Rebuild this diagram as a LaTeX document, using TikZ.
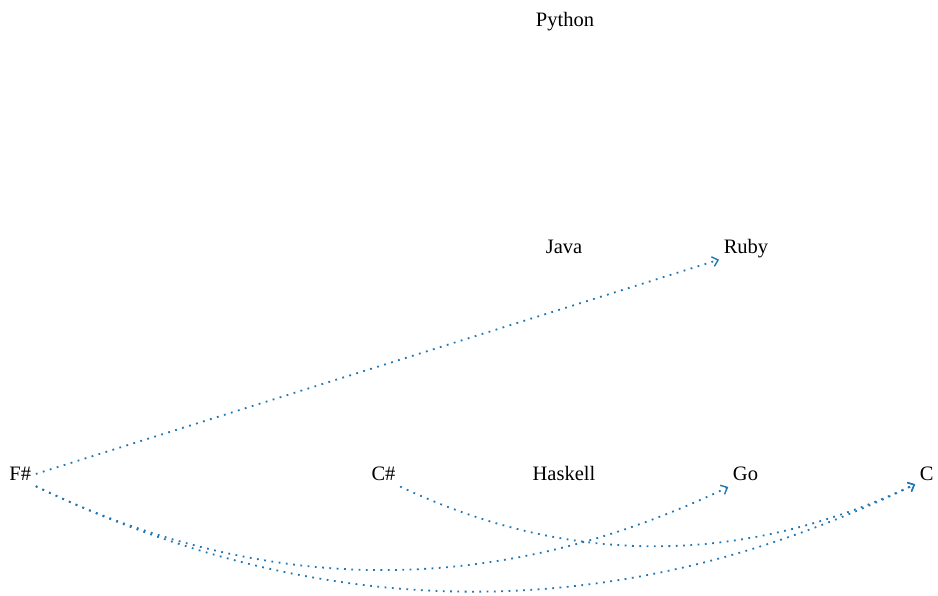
\documentclass[tikz,border=0pt]{standalone}
\usepackage{fontspec}
\setmainfont{Liberation Serif}
\usetikzlibrary{arrows.meta}
\definecolor{edgeblue}{RGB}{31,119,180}
\tikzset{
  lang/.style={anchor=base, inner sep=4.5pt, text height=0.7em, text depth=0.25em,
    font=\fontsize{20.5}{24}\selectfont, text=black},
  link/.style={draw=edgeblue, line width=1.8pt, dash pattern=on 1.8pt off 5.5pt,
    -{Straight Barb[length=5.5pt,width=10pt,line width=1.4pt]}},
}
\begin{document}
\begin{tikzpicture}[x=1pt,y=1pt]
\useasboundingbox (0,0) rectangle (938,595);
\node[lang] (py) at (565,568) {Python};
\node[lang] (java) at (564,341) {Java};
\node[lang] (ruby) at (746,341.5) {Ruby};
\node[lang] (fs) at (20.3,114) {F\#};
\node[lang] (cs) at (383.5,114) {C\#};
\node[lang] (hs) at (564,114) {Haskell};
\node[lang] (go) at (745.5,114) {Go};
\node[lang] (c) at (926.7,114) {C};
\draw[link] (fs) -- (ruby);
\draw[link] (fs) .. controls (265.7,-2.3) and (496.3,-3.3) .. (go);
\draw[link] (fs) .. controls (328.3,-32.3) and (621.7,-31.7) .. (c);
\draw[link] (cs) .. controls (571.3,27.7) and (743,29.3) .. (c);
\end{tikzpicture}
\end{document}
